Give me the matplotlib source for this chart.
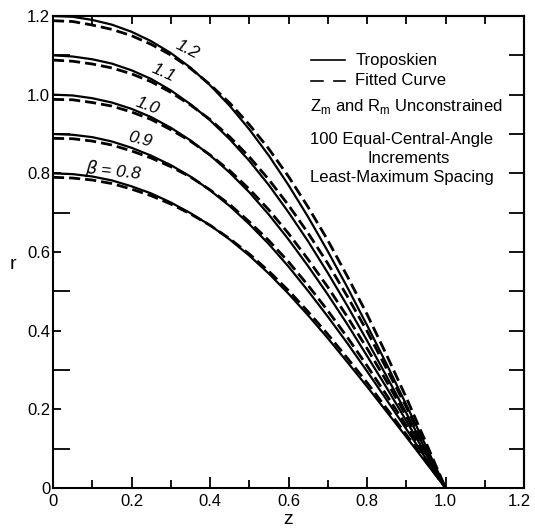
import matplotlib
matplotlib.use('Agg')
import matplotlib.pyplot as plt
from matplotlib.transforms import ScaledTranslation
import numpy as np

plt.rcParams['font.family'] = ['Liberation Sans Narrow', 'Liberation Sans', 'DejaVu Sans']

# axial position (z/H)
z = [0.00, 0.05, 0.10, 0.15, 0.20, 0.25, 0.30, 0.35, 0.40, 0.45, 0.50,
     0.55, 0.60, 0.65, 0.70, 0.75, 0.80, 0.85, 0.90, 0.95, 1.00]

betas = ['0.8', '0.9', '1.0', '1.1', '1.2']

# troposkien shapes r(z), one per beta
tropo_08 = [0.800, 0.798, 0.792, 0.782, 0.767, 0.749, 0.726, 0.699, 0.668, 0.632, 0.591,
            0.545, 0.494, 0.439, 0.381, 0.320, 0.258, 0.194, 0.130, 0.065, 0.0]
tropo_09 = [0.900, 0.898, 0.892, 0.881, 0.865, 0.845, 0.821, 0.792, 0.757, 0.717, 0.671,
            0.620, 0.563, 0.501, 0.436, 0.368, 0.297, 0.224, 0.150, 0.075, 0.0]
tropo_10 = [1.000, 0.998, 0.991, 0.980, 0.964, 0.943, 0.916, 0.884, 0.846, 0.802, 0.752,
            0.695, 0.632, 0.564, 0.492, 0.416, 0.336, 0.255, 0.171, 0.086, 0.0]
tropo_11 = [1.100, 1.097, 1.090, 1.079, 1.062, 1.040, 1.011, 0.976, 0.935, 0.887, 0.832,
            0.770, 0.701, 0.627, 0.547, 0.463, 0.375, 0.284, 0.191, 0.096, 0.0]
tropo_12 = [1.200, 1.198, 1.190, 1.178, 1.160, 1.136, 1.106, 1.069, 1.024, 0.972, 0.912,
            0.845, 0.770, 0.689, 0.602, 0.510, 0.414, 0.315, 0.212, 0.107, 0.0]

# fitted curves
fit_08 = [0.790, 0.788, 0.783, 0.774, 0.760, 0.743, 0.722, 0.697, 0.668, 0.634, 0.595,
          0.551, 0.502, 0.448, 0.391, 0.330, 0.268, 0.202, 0.136, 0.068, 0.0]
fit_09 = [0.889, 0.888, 0.882, 0.872, 0.857, 0.839, 0.817, 0.791, 0.758, 0.721, 0.677,
          0.629, 0.575, 0.515, 0.451, 0.383, 0.311, 0.236, 0.159, 0.080, 0.0]
fit_10 = [0.988, 0.987, 0.980, 0.971, 0.956, 0.937, 0.911, 0.882, 0.847, 0.807, 0.760,
          0.707, 0.647, 0.581, 0.511, 0.435, 0.355, 0.271, 0.183, 0.092, 0.0]
fit_11 = [1.088, 1.085, 1.078, 1.068, 1.053, 1.033, 1.006, 0.974, 0.937, 0.893, 0.842,
          0.784, 0.719, 0.648, 0.571, 0.487, 0.399, 0.303, 0.206, 0.103, 0.0]
fit_12 = [1.188, 1.186, 1.177, 1.166, 1.150, 1.128, 1.101, 1.067, 1.026, 0.979, 0.924,
          0.862, 0.792, 0.714, 0.630, 0.538, 0.442, 0.338, 0.230, 0.116, 0.0]

tropo = [tropo_08, tropo_09, tropo_10, tropo_11, tropo_12]
fits = [fit_08, fit_09, fit_10, fit_11, fit_12]

fig = plt.figure(figsize=(5.35, 5.29), dpi=100)
ax = fig.add_axes([53/535, 41/529, 471/535, 472/529])

for r in tropo:
    ax.plot(z, r, color='black', lw=1.6, solid_capstyle='butt', solid_joinstyle='round')
for r in fits:
    ax.plot(z, r, color='black', lw=2.0, dashes=(4, 1.8))

ax.set_xlim(0, 1.2)
ax.set_ylim(0, 1.2)

ticks = [0, 0.2, 0.4, 0.6, 0.8, 1.0, 1.2]
ticklabels = ['0', '0.2', '0.4', '0.6', '0.8', '1.0', '1.2']
ax.set_xticks(ticks)
ax.set_xticklabels(ticklabels)
ax.set_yticks(ticks)
ax.set_yticklabels(ticklabels)
minor = [0.1, 0.3, 0.5, 0.7, 0.9, 1.1]
ax.set_xticks(minor, minor=True)
ax.set_yticks(minor, minor=True)

ax.tick_params(axis='both', which='both', direction='in', width=1.3, labelsize=12)
ax.tick_params(axis='x', which='major', length=8, pad=4)
ax.tick_params(axis='x', which='minor', length=6)
ax.tick_params(axis='y', which='major', length=6, pad=2)
ax.tick_params(axis='y', which='minor', length=12)
last = ax.get_xticklabels()[-1]
last.set_transform(last.get_transform() + ScaledTranslation(-0.05, 0, fig.dpi_scale_trans))

all_ticks = [0.1, 0.2, 0.3, 0.4, 0.5, 0.6, 0.7, 0.8, 0.9, 1.0, 1.1]
top = ax.secondary_xaxis('top')
top.set_xticks(all_ticks)
top.tick_params(direction='in', length=6, width=1.3, labeltop=False)
right = ax.secondary_yaxis('right')
right.set_yticks(all_ticks)
right.tick_params(direction='in', length=11, width=1.3, labelright=False)

for s in list(ax.spines.values()) + [top.spines['top'], right.spines['right']]:
    s.set_linewidth(1.5)

ax.set_xlabel('z', fontsize=14, labelpad=2)
ax.set_ylabel('r', fontsize=14, rotation=0, va='center')
ax.yaxis.set_label_coords(-0.085, 0.473)

# curve labels (centre position, rotation)
lab_z = [0.155, 0.222, 0.240, 0.282, 0.342]
lab_r = [0.807, 0.886, 0.972, 1.055, 1.115]
lab_rot = [-6, -14, -20, -24, -27]
for x, y, rot, b in zip(lab_z, lab_r, lab_rot, betas):
    txt = b if b != '0.8' else r'$\beta$ = 0.8'
    ax.text(x, y, txt, fontsize=12.5, style='italic', rotation=rot,
            ha='center', va='center')

# legend block
fs = 12
ax.plot([0.657, 0.745], [1.087, 1.087], color='black', lw=1.2)
ax.plot([0.657, 0.687], [1.035, 1.035], color='black', lw=1.2)
ax.plot([0.715, 0.745], [1.035, 1.035], color='black', lw=1.2)
ax.text(0.77, 1.087, 'Troposkien', fontsize=fs, va='center')
ax.text(0.77, 1.035, 'Fitted Curve', fontsize=fs, va='center')
ax.text(0.655, 0.97, r'Z$_\mathregular{m}$ and R$_\mathregular{m}$ Unconstrained', fontsize=fs, va='center')
ax.text(0.655, 0.887, '100 Equal-Central-Angle', fontsize=fs, va='center')
ax.text(0.905, 0.838, 'Increments', fontsize=fs, va='center', ha='center')
ax.text(0.655, 0.79, 'Least-Maximum Spacing', fontsize=fs, va='center')

fig.savefig('out.png', dpi=100)
